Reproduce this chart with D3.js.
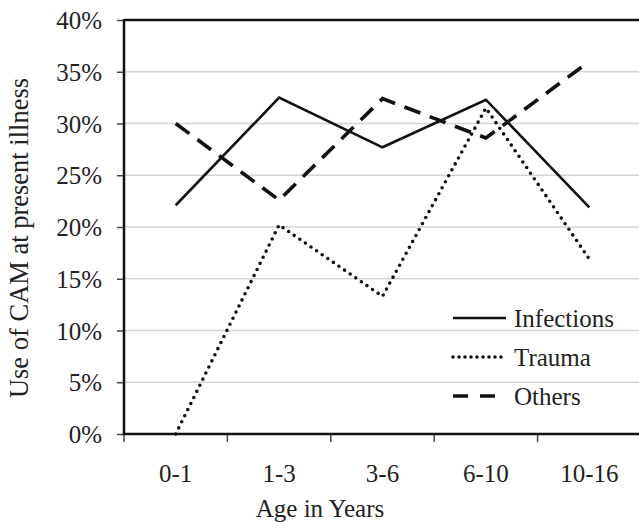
<!DOCTYPE html>
<html><head><meta charset="utf-8">
<script src="https://cdn.jsdelivr.net/npm/d3@7"></script>
<style>body{margin:0;background:#fff}svg{display:block}
text{font-family:"Liberation Serif","Tinos","Times New Roman","DejaVu Serif",serif;}</style></head>
<body><svg id="c" width="639" height="522"></svg>
<script>
const categories = ["0-1", "1-3", "3-6", "6-10", "10-16"];
const infections = [22.1, 32.5, 27.7, 32.3, 21.9];
const trauma = [0, 20.2, 13.3, 31.5, 16.9];
const others = [30.0, 22.6, 32.4, 28.6, 36.0];
const yTicks = [0, 5, 10, 15, 20, 25, 30, 35, 40];
const seriesNames = ["Infections", "Trauma", "Others"];

const svg = d3.select("#c");
const FS = "25px";
const L = 124, R = 641, T = 20, B = 434;
const x = d3.scaleBand().domain(categories).range([L, R]);
const y = d3.scaleLinear().domain([0, 40]).range([B, T]);
const cx = c => x(c) + x.bandwidth() / 2;

// gridlines
svg.append("g").selectAll("line").data(yTicks.filter(v => v > 0 && v < 40)).join("line")
  .attr("x1", L).attr("x2", 639).attr("y1", d => y(d)).attr("y2", d => y(d))
  .attr("stroke", "#d4d4d4").attr("stroke-width", 1.5);

// left axis
const ya = svg.append("g").attr("transform", `translate(${L},0)`)
  .call(d3.axisLeft(y).tickValues(yTicks).tickSize(7).tickPadding(15).tickFormat(d => d + "%"));
ya.attr("font-family", null).attr("font-size", null);
ya.select(".domain").remove();
ya.selectAll(".tick line").attr("stroke", "#444").attr("stroke-width", 1.5);
ya.selectAll("text").style("font-size", FS).attr("fill", "#222").attr("dy", "0.34em");

// bottom ticks at band edges
const edges = categories.map(c => x(c)).concat([R]);
svg.append("g").selectAll("line").data(edges).join("line")
  .attr("x1", d => d).attr("x2", d => d).attr("y1", B).attr("y2", B + 8)
  .attr("stroke", "#444").attr("stroke-width", 1.5);
svg.append("g").selectAll("text").data(categories).join("text")
  .attr("x", d => cx(d)).attr("y", 482).attr("text-anchor", "middle")
  .style("font-size", FS).attr("fill", "#222").text(d => d);

// frame lines
svg.append("line").attr("x1", L).attr("x2", 639).attr("y1", T).attr("y2", T).attr("stroke", "#111").attr("stroke-width", 2.5);
svg.append("line").attr("x1", L).attr("x2", 639).attr("y1", B).attr("y2", B).attr("stroke", "#111").attr("stroke-width", 2.5);
svg.append("line").attr("x1", L).attr("x2", L).attr("y1", T - 1).attr("y2", B + 1).attr("stroke", "#111").attr("stroke-width", 2.5);

// axis titles
svg.append("text").attr("x", 320).attr("y", 517).attr("text-anchor", "middle")
  .style("font-size", FS).attr("fill", "#222").text("Age in Years");
svg.append("text").attr("transform", "translate(28,238) rotate(-90)").attr("text-anchor", "middle")
  .style("font-size", "26.5px").attr("fill", "#222").text("Use of CAM at present illness");

// series
const styles = {
  Infections: {w: 2.6, dash: null, cap: "butt"},
  Trauma: {w: 3.6, dash: "0,6.8", cap: "round"},
  Others: {w: 3.6, dash: "17,10", cap: "butt"}
};
const data = {Infections: infections, Trauma: trauma, Others: others};
const line = d3.line().x((d, i) => cx(categories[i])).y(d => y(d));
seriesNames.forEach(n => {
  const s = styles[n];
  const p = svg.append("path").datum(data[n]).attr("d", line)
    .attr("fill", "none").attr("stroke", "#111").attr("stroke-width", s.w)
    .attr("stroke-linecap", s.cap).attr("stroke-linejoin", "miter");
  if (s.dash) p.attr("stroke-dasharray", s.dash);
});

// legend
const legY = [318, 357, 396];
const legDash = {Infections: null, Trauma: "0,6", Others: "15,12"};
seriesNames.forEach((n, i) => {
  const s = styles[n];
  const l = svg.append("line").attr("x1", 453).attr("x2", n === "Others" ? 496 : 506)
    .attr("y1", legY[i]).attr("y2", legY[i]).attr("stroke", "#111").attr("stroke-width", s.w)
    .attr("stroke-linecap", s.cap);
  if (legDash[n]) l.attr("stroke-dasharray", legDash[n]);
  svg.append("text").attr("x", 514).attr("y", legY[i] + 9)
    .style("font-size", FS).attr("fill", "#222").text(n);
});
</script></body></html>
